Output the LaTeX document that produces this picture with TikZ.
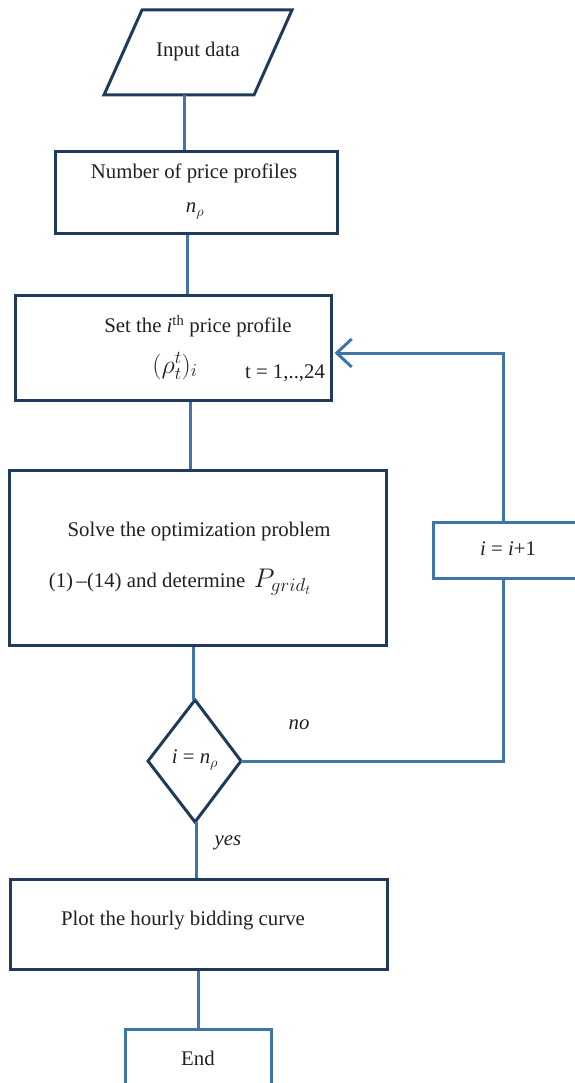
\RequirePackage{fix-cm}
\documentclass[tikz,border=0pt]{standalone}
\usepackage{fontspec}
\setmainfont{Liberation Serif}
\usetikzlibrary{arrows.meta}
\definecolor{navy}{HTML}{1F3A5A}
\definecolor{steel}{HTML}{3F75AA}
\definecolor{ink}{HTML}{231F20}
\tikzset{
  boxstyle/.style={draw=navy, line width=3pt, rectangle, inner sep=0pt},
  bluebox/.style={draw=steel, line width=3pt, rectangle, inner sep=0pt},
  lbl/.style={text=ink, inner sep=0pt, font=\fontsize{20.8}{24}\selectfont},
  conn/.style={draw=steel, line width=3pt},
  arr/.style={conn, -{Straight Barb[length=15pt,width=28pt]}},
}
\begin{document}
\begin{tikzpicture}[x=1pt,y=-1pt]
\useasboundingbox (0,0) rectangle (574,1083);
% input parallelogram
\draw[draw=navy, line width=3pt, line join=miter] (142,10) -- (292,10) -- (254,95) -- (104,95) -- cycle;
\node[lbl] (input) at (198,52) {Input data};
\coordinate (inb) at (184,95);
% number of price profiles
\node[boxstyle, minimum width=282pt, minimum height=82pt] (num) at (196,193) {};
\node[lbl] (numt) at (194,173) {Number of price profiles};
\node[lbl] (nrho) at (195,211) {\textit{n}$_\rho$};
% set ith profile
\node[boxstyle, minimum width=316pt, minimum height=105pt] (setp) at (173,347.5) {};
\node[lbl] (sett) at (198,326) {Set the \textit{i}\textsuperscript{th} price profile};
\node[lbl, font=\fontsize{26}{30}\selectfont] (rho) at (175,366) {$(\rho_t^t)_i$};
\node[lbl] (trange) at (285,373) {t = 1,..,24};
% solve
\node[boxstyle, minimum width=377pt, minimum height=175pt] (solve) at (197.5,557.5) {};
\node[lbl] (solvet) at (199,531) {Solve the optimization problem};
\node[lbl] (solvet2) at (180,582) {(1)\,–(14) and determine\, {\fontsize{27}{30}\selectfont$P_{grid_t}$}};
% diamond
\coordinate (dtop) at (195,700);
\coordinate (dright) at (241,761);
\coordinate (dbot) at (195,822);
\coordinate (dleft) at (148,761);
\draw[draw=navy, line width=3pt, line join=miter] (dtop) -- (dright) -- (dbot) -- (dleft) -- cycle;
\node[lbl] (dtext) at (195,760) {\textit{i} = \textit{n}$_\rho$};
% increment
\node[bluebox, minimum width=157pt, minimum height=56pt] (inc) at (511.5,550) {};
\node[lbl] (inct) at (508,549) {\textit{i} = \textit{i}+1};
% plot
\node[boxstyle, minimum width=377pt, minimum height=90pt] (plot) at (198.5,924) {};
\node[lbl] (plott) at (183,921) {Plot the hourly bidding curve};
% end
\node[bluebox, minimum width=146pt, minimum height=72pt] (endb) at (198,1065) {};
\node[lbl] (endt) at (198,1058) {End};
% labels
\node[lbl] (no) at (299,725) {\textit{no}};
\node[lbl] (yes) at (228,843) {\textit{yes}};
% connectors
\draw[conn] (inb) -- (num.north -| inb);
\draw[conn] ([xshift=-9pt]num.south) -- ([xshift=14pt]setp.north);
\draw[conn] ([xshift=17pt]setp.south) -- ([xshift=-7.5pt]solve.north);
\draw[conn] ([xshift=-4.5pt]solve.south) -- ([xshift=-2pt]dtop);
\draw[conn] ([xshift=1pt]dbot) -- ([xshift=-2.5pt]plot.north);
\draw[conn] ([xshift=-0.5pt]plot.south) -- (endb.north);
\coordinate (incs) at ([xshift=-8.5pt]inc.south);
\coordinate (incn) at ([xshift=-8.5pt]inc.north);
\draw[conn, line join=miter] (dright) -| (incs);
\draw[arr, line join=miter] (incn) |- ([xshift=2pt, yshift=-5.5pt]setp.east);
\end{tikzpicture}
\end{document}
